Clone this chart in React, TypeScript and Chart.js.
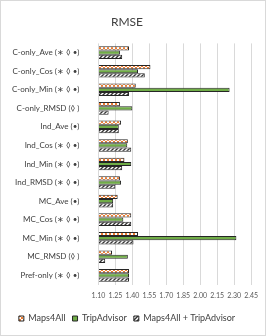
import React, { useEffect, useRef } from "react";
import { Chart, registerables } from "chart.js";

Chart.register(...registerables);

const categories = [
  "C-only_Ave (∗ ◊ •)",
  "C-only_Cos (∗ ◊ •)",
  "C-only_Min (∗ ◊ •)",
  "C-only_RMSD (◊ )",
  "Ind_Ave (•)",
  "Ind_Cos (∗ ◊ •)",
  "Ind_Min (∗ ◊ •)",
  "Ind_RMSD (∗ ◊ •)",
  "MC_Ave (•)",
  "MC_Cos (∗ ◊ •)",
  "MC_Min (∗ ◊ •)",
  "MC_RMSD (◊ )",
  "Pref-only (∗ ◊ •)",
];
const maps4All = [1.37, 1.56, 1.43, 1.29, 1.30, 1.36, 1.33, 1.29, 1.27, 1.39, 1.45, 1.22, 1.37];
const tripAdvisor = [1.29, 1.45, 2.26, 1.40, 1.28, 1.355, 1.39, 1.30, 1.23, 1.32, 2.32, 1.36, 1.37];
const combined = [1.31, 1.51, 1.37, 1.19, 1.28, 1.39, 1.31, 1.25, 1.23, 1.39, 1.41, 1.16, 1.37];
const seriesNames = ["Maps4All", "TripAdvisor", "Maps4All + TripAdvisor"];
const xMin = 1.1;
const xMax = 2.45;
const xStep = 0.15;

function orangePattern(): CanvasPattern | string {
  const c = document.createElement("canvas");
  c.width = 4;
  c.height = 4;
  const g = c.getContext("2d");
  if (!g) return "#ED7D31";
  g.fillStyle = "#ffffff";
  g.fillRect(0, 0, 4, 4);
  g.fillStyle = "#ED7D31";
  g.fillRect(0, 0, 2, 2);
  g.fillRect(2, 2, 2, 2);
  return g.createPattern(c, "repeat") || "#ED7D31";
}

function hatchPattern(): CanvasPattern | string {
  const c = document.createElement("canvas");
  c.width = 4;
  c.height = 4;
  const g = c.getContext("2d");
  if (!g) return "#404040";
  g.fillStyle = "#ffffff";
  g.fillRect(0, 0, 4, 4);
  g.strokeStyle = "#333333";
  g.lineWidth = 1.4;
  g.beginPath();
  g.moveTo(-1, 5);
  g.lineTo(5, -1);
  g.moveTo(-1, 1);
  g.lineTo(1, -1);
  g.moveTo(3, 5);
  g.lineTo(5, 3);
  g.stroke();
  return g.createPattern(c, "repeat") || "#404040";
}

export default function App() {
  const ref = useRef<HTMLCanvasElement | null>(null);
  useEffect(() => {
    document.body.style.margin = "0";
    if (!ref.current) return;
    const font = "Lato, 'Open Sans', sans-serif";
    const chart = new Chart(ref.current, {
      type: "bar",
      data: {
        labels: categories,
        datasets: [
          {
            label: seriesNames[0],
            data: maps4All,
            backgroundColor: orangePattern() as any,
            borderColor: "#262626",
            borderWidth: 1,
          },
          {
            label: seriesNames[1],
            data: tripAdvisor,
            backgroundColor: "#70AD47",
            borderColor: "#262626",
            borderWidth: 1,
          },
          {
            label: seriesNames[2],
            data: combined,
            backgroundColor: hatchPattern() as any,
            borderColor: "#262626",
            borderWidth: 1,
          },
        ],
      },
      options: {
        indexAxis: "y",
        animation: false,
        responsive: false,
        maintainAspectRatio: false,
        layout: { padding: { left: 0, right: 12, top: 2, bottom: 2 } },
        datasets: { bar: { categoryPercentage: 0.68, barPercentage: 1.0, base: xMin } } as any,
        scales: {
          x: {
            min: xMin,
            max: xMax,
            ticks: {
              stepSize: xStep,
              color: "#595959",
              font: { family: font, size: 7 },
              callback: (v: any) => Number(v).toFixed(2),
              maxRotation: 0,
              autoSkip: false,
              padding: 7,
            },
            grid: { color: "#d9d9d9", drawTicks: false },
            border: { display: false },
          },
          y: {
            ticks: {
              color: "#404040",
              font: { family: font, size: 8 },
              autoSkip: false,
              padding: 11,
            },
            grid: { display: false },
            border: { display: false },
          },
        },
        plugins: {
          title: {
            display: true,
            text: "RMSE",
            color: "#404040",
            font: { family: font, size: 12, weight: "normal" },
            padding: { top: 12, bottom: 14 },
          },
          legend: {
            position: "bottom",
            labels: {
              boxWidth: 5,
              boxHeight: 5,
              color: "#404040",
              font: { family: font, size: 9 },
              padding: 7,
            },
          },
          tooltip: { enabled: false },
        },
      },
    });
    return () => chart.destroy();
  }, []);
  return (
    <div style={{ width: 266, height: 336, boxSizing: "border-box", border: "1px solid #d9d9d9", position: "relative" }}>
      <canvas ref={ref} width={264} height={334} style={{ display: "block" }} />
    </div>
  );
}
